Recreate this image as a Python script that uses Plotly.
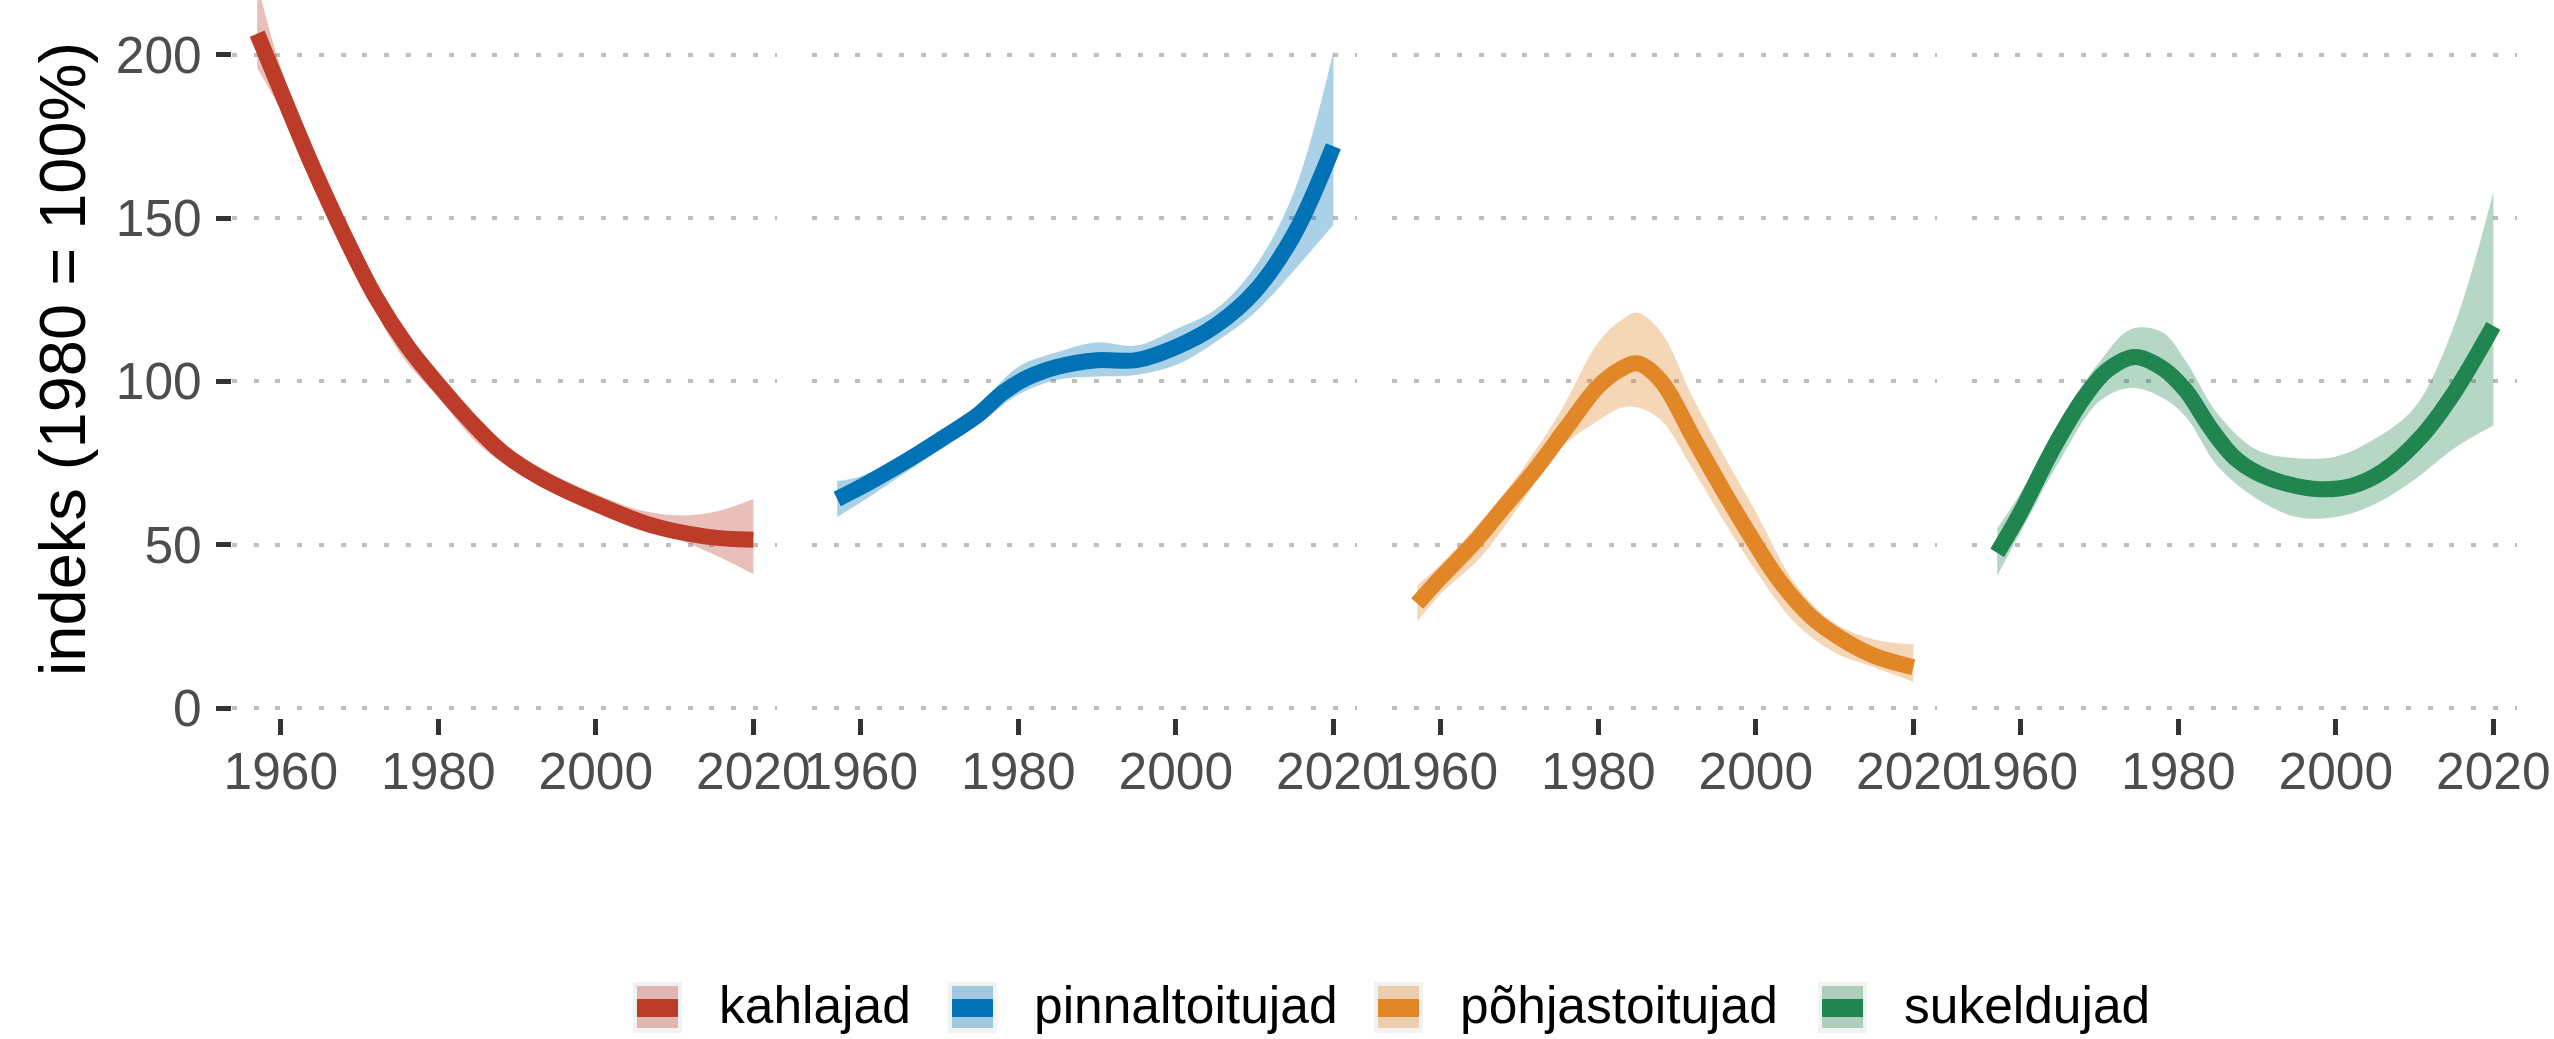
import plotly.graph_objects as go

# ---------------- data ----------------
series_names = ["kahlajad", "pinnaltoitujad", "põhjastoitujad", "sukeldujad"]
line_colors = ["#BC3C29", "#0072B5", "#E18727", "#20854E"]
band_colors = ["rgba(188,60,41,0.33)", "rgba(0,114,181,0.33)",
               "rgba(225,135,39,0.33)", "rgba(32,133,78,0.33)"]

red_years = [1957, 1960, 1964, 1968, 1972, 1976, 1980, 1984, 1988, 1993, 2000, 2007, 2014, 2020]
red_index = [206.5, 189, 166, 145, 126, 111, 99, 88, 78.5, 70.5, 62.5, 56, 52.5, 51.5]
red_band_years = [1957, 1960, 1965, 1970, 1975, 1980, 1985, 1990, 1995, 2000, 2005, 2010, 2015, 2020]
red_upper = [222, 196, 165, 139, 117, 103, 89, 78, 71, 65.5, 61, 59, 60, 64]
red_lower = [196, 183, 157, 132, 109, 95, 81, 72, 66, 60, 55, 52, 47, 41]

blue_years = [1957, 1961, 1965, 1970, 1975, 1978, 1981, 1985, 1990, 1995, 2000, 2005, 2010, 2015, 2020]
blue_index = [64, 69, 74.5, 82, 90, 96.5, 101, 104.5, 106.5, 106.5, 110.5, 117, 127.5, 145, 172]
blue_band_years = [1957, 1960, 1965, 1970, 1975, 1980, 1985, 1990, 1995, 2000, 2005, 2010, 2015, 2020]
blue_upper = [69.5, 71, 77, 84, 93, 104.5, 109, 112, 111, 116, 122, 135, 158, 201]
blue_lower = [58.5, 63, 71, 79, 87, 96, 100.5, 101.5, 102, 105, 112, 121, 134, 148]

orange_years = [1957, 1960, 1964, 1968, 1972, 1976, 1980, 1983, 1985, 1988, 1992, 1996, 2000, 2003, 2007, 2011, 2015, 2020]
orange_index = [32, 40, 50, 61.5, 73, 86, 98.5, 104, 105.5, 100, 83, 66, 50, 39, 28, 21, 16, 12.5]
orange_band_years = [1957, 1960, 1965, 1970, 1975, 1980, 1983, 1985, 1988, 1992, 1996, 2000, 2005, 2010, 2015, 2020]
orange_upper = [37.5, 44, 57, 72, 90, 112, 119, 121, 115, 95, 77, 60, 38, 26, 21, 19.5]
orange_lower = [26.5, 35, 46, 62, 79, 88, 92, 92, 88, 73, 57, 42, 26, 17, 12.5, 8]

green_years = [1957, 1960, 1964, 1968, 1971, 1974.5, 1978, 1981, 1984, 1987, 1990, 1994, 1998, 2002, 2006, 2011, 2015, 2020]
green_index = [47.5, 60, 79, 95, 103.5, 107.5, 104, 97, 86, 77, 72, 68.5, 67, 68, 72.5, 83.5, 96.5, 117]
green_band_years = [1957, 1960, 1965, 1970, 1974, 1978, 1981, 1985, 1990, 1995, 2000, 2005, 2010, 2015, 2020]
green_upper = [55, 66, 88, 106, 116, 115, 106, 90, 79, 76.5, 77, 82.5, 92, 117, 158]
green_lower = [40.5, 54, 76, 94, 98, 95, 89, 74, 64, 58.5, 58.5, 62.5, 70, 79.5, 86.5]

x_ticks = [1960, 1980, 2000, 2020]
y_ticks = [0, 50, 100, 150, 200]
y_title = "indeks (1980 = 100%)"

lines = [(red_years, red_index), (blue_years, blue_index),
         (orange_years, orange_index), (green_years, green_index)]
bands = [(red_band_years, red_lower, red_upper), (blue_band_years, blue_lower, blue_upper),
         (orange_band_years, orange_lower, orange_upper), (green_band_years, green_lower, green_upper)]

# ---------------- layout geometry (pixels) ----------------
W, H = 2554, 1039
ML, MR, MT, MB = 232, 37, 0, 321
PW = W - ML - MR
PH = H - MT - MB
PANEL_W, PANEL_PITCH = 545, 580
FONT = "Liberation Sans, Arial, sans-serif"

fig = go.Figure()
for i in range(4):
    ax = "" if i == 0 else str(i + 1)
    bx, blo, bup = bands[i]
    lx, ly = lines[i]
    fig.add_trace(go.Scatter(x=bx, y=blo, mode="lines", line=dict(width=0, shape="spline"),
                             xaxis="x" + ax, yaxis="y" + ax, showlegend=False, hoverinfo="skip"))
    fig.add_trace(go.Scatter(x=bx, y=bup, mode="lines", line=dict(width=0, shape="spline"),
                             fill="tonexty", fillcolor=band_colors[i],
                             xaxis="x" + ax, yaxis="y" + ax, showlegend=False, hoverinfo="skip"))
    fig.add_trace(go.Scatter(x=lx, y=ly, mode="lines", name=series_names[i],
                             line=dict(width=16, color=line_colors[i], shape="spline"),
                             xaxis="x" + ax, yaxis="y" + ax, showlegend=False))

layout = dict(
    width=W, height=H,
    margin=dict(l=ML, r=MR, t=MT, b=MB, pad=0),
    paper_bgcolor="white", plot_bgcolor="white",
    font=dict(family=FONT, color="#4D4D4D"),
    showlegend=False,
)
for i in range(4):
    ax = "" if i == 0 else str(i + 1)
    d0 = (PANEL_PITCH * i) / PW
    d1 = (PANEL_PITCH * i + PANEL_W) / PW
    layout["xaxis" + ax] = dict(
        domain=[d0, d1], range=[1953.8, 2023.0], anchor="y" + ax,
        tickvals=x_ticks, ticktext=[str(t) for t in x_ticks],
        ticks="outside", ticklen=16, tickwidth=5, tickcolor="#333333",
        tickfont=dict(size=51.5, color="#4D4D4D", family=FONT),
        showgrid=False, zeroline=False, showline=False, ticklabelstandoff=-8,
    )
    layout["yaxis" + ax] = dict(
        domain=[0, 1], range=[-3.06, 216.8], anchor="x" + ax,
        tickvals=y_ticks, ticktext=[str(t) for t in y_ticks],
        showgrid=True, gridcolor="#BEBEBE", gridwidth=4, griddash="5px,16.7px",
        zeroline=False, showline=False,
        ticks="outside" if i == 0 else "", ticklen=15, tickwidth=5, tickcolor="#333333",
        showticklabels=(i == 0),
        tickfont=dict(size=51.5, color="#4D4D4D", family=FONT),
        ticklabelstandoff=4,
    )
    if i > 0:
        layout["yaxis" + ax]["matches"] = "y"
layout["yaxis"]["title"] = dict(text=y_title, font=dict(size=65, color="black", family=FONT), standoff=9)

# ---------------- legend (ggplot-style keys drawn as shapes) ----------------
def px_x(p):
    return (p - ML) / PW

def px_y(p):
    return (MT + PH - p) / PH

key_left = [633, 948, 1374, 1818]
shapes, annotations = [], []
for i in range(4):
    k = key_left[i]
    shapes.append(dict(type="rect", xref="paper", yref="paper",
                       x0=px_x(k), x1=px_x(k + 49), y0=px_y(1033), y1=px_y(982),
                       fillcolor="#F2F2F2", line=dict(width=0), layer="above"))
    shapes.append(dict(type="rect", xref="paper", yref="paper",
                       x0=px_x(k + 4), x1=px_x(k + 45), y0=px_y(1028), y1=px_y(986),
                       fillcolor=band_colors[i], line=dict(width=0), layer="above"))
    shapes.append(dict(type="rect", xref="paper", yref="paper",
                       x0=px_x(k + 4), x1=px_x(k + 45), y0=px_y(1017), y1=px_y(999),
                       fillcolor=line_colors[i], line=dict(width=0), layer="above"))
    annotations.append(dict(text=series_names[i], xref="paper", yref="paper",
                            x=px_x(k + 84), y=px_y(1005), xanchor="left", yanchor="middle",
                            showarrow=False, font=dict(size=51.5, color="black", family=FONT)))

layout["shapes"] = shapes
layout["annotations"] = annotations

fig.update_layout(**layout)
fig.write_html("out.html", config={"displayModeBar": False},
               post_script="document.body.style.margin='0px';")
